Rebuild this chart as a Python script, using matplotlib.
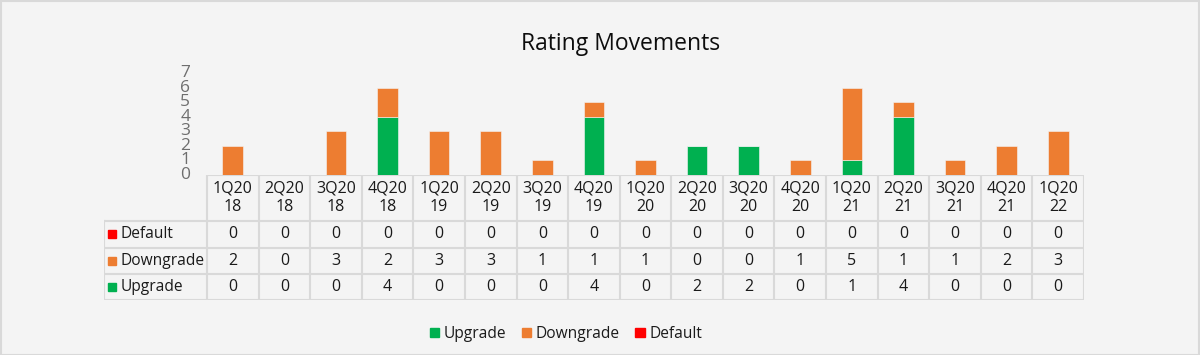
import matplotlib.pyplot as plt
from matplotlib.patches import Patch, Rectangle

quarters = ["1Q20\n18", "2Q20\n18", "3Q20\n18", "4Q20\n18", "1Q20\n19", "2Q20\n19",
            "3Q20\n19", "4Q20\n19", "1Q20\n20", "2Q20\n20", "3Q20\n20", "4Q20\n20",
            "1Q20\n21", "2Q20\n21", "3Q20\n21", "4Q20\n21", "1Q20\n22"]
upgrade = [0, 0, 0, 4, 0, 0, 0, 4, 0, 2, 2, 0, 1, 4, 0, 0, 0]
downgrade = [2, 0, 3, 2, 3, 3, 1, 1, 1, 0, 0, 1, 5, 1, 1, 2, 3]
default = [0] * 17

C_UP = "#00b050"
C_DOWN = "#ed7d31"
C_DEF = "#ff0000"
GRID = "#d9d9d9"
BG = "#f4f4f4"
TXT = "#1a1a1a"

plt.rcParams["font.family"] = ["Open Sans", "DejaVu Sans"]

W, H = 1200, 355
fig = plt.figure(figsize=(12, 3.55), dpi=100, facecolor=BG)
fig.patches.append(Rectangle((0.5 / W, 0.5 / H), 1 - 1.5 / W, 1 - 1.5 / H, transform=fig.transFigure,
                             fill=False, edgecolor=GRID, linewidth=1.5))


def px_axes(x0, y0, x1, y1):
    # pixel box (top-left origin) -> axes
    return fig.add_axes([x0 / W, 1 - y1 / H, (x1 - x0) / W, (y1 - y0) / H])


left, right = 207, 1084
n = len(quarters)
colw = (right - left) / n

# bars
ax = px_axes(left, 73, right, 175)
ax.set_facecolor("none")
xs = [i + 0.5 for i in range(n)]
ax.bar(xs, upgrade, width=0.4, color=C_UP, edgecolor="#f4f4f4", linewidth=0.4)
ax.bar(xs, downgrade, width=0.4, bottom=upgrade, color=C_DOWN, edgecolor="#f4f4f4", linewidth=0.4)
tops = [u + d for u, d in zip(upgrade, downgrade)]
ax.bar(xs, default, width=0.4, bottom=tops, color=C_DEF)
ax.set_xlim(0, n)
ax.set_ylim(0, 7)
ax.set_yticks(range(8))
ax.set_xticks([])
ax.tick_params(axis="y", length=0, pad=12, labelsize=12.5, labelcolor="#6e6e6e")
for s in ax.spines.values():
    s.set_visible(False)
for lab in ax.get_yticklabels():
    lab.set_va("center")

fig.text(621 / W, 1 - 44 / H, "Rating Movements", ha="center", va="center", fontsize=16.5, color="#0d0d0d")

# data table
tb = px_axes(104, 175, right, 300)
tb.set_xlim(104, right)
tb.set_ylim(300, 175)
tb.axis("off")
tb.set_facecolor("none")
rows = [("Default", default, C_DEF), ("Downgrade", downgrade, C_DOWN), ("Upgrade", upgrade, C_UP)]
row_y = [221, 247.5, 274, 300]

lw = 1.5
tb.plot([left, right], [175, 175], color=GRID, lw=lw, solid_capstyle="butt")
for y in row_y:
    tb.plot([104, right], [y, y], color=GRID, lw=lw, solid_capstyle="butt")
tb.plot([104, 104], [221, 300], color=GRID, lw=lw)
for i in range(n + 1):
    x = left + i * colw
    tb.plot([x, x], [175, 300], color=GRID, lw=lw)

for i, q in enumerate(quarters):
    tb.text(left + (i + 0.5) * colw, 198, q, ha="center", va="center", fontsize=11.5,
            color=TXT, linespacing=1.2)

for r, (name, vals, c) in enumerate(rows):
    yc = (row_y[r] + row_y[r + 1]) / 2
    tb.add_patch(Rectangle((108, yc - 4), 8, 8, color=c))
    tb.text(121, yc, name, ha="left", va="center", fontsize=11.2, color=TXT)
    for i, v in enumerate(vals):
        tb.text(left + (i + 0.5) * colw, yc, str(v), ha="center", va="center", fontsize=11.5, color=TXT)

handles = [Patch(color=C_UP, label="Upgrade"), Patch(color=C_DOWN, label="Downgrade"),
           Patch(color=C_DEF, label="Default")]
fig.legend(handles=handles, loc="center", bbox_to_anchor=(566 / W, 1 - 334 / H), ncol=3, frameon=False,
           fontsize=11.2, handlelength=0.6, handleheight=0.6, handletextpad=0.3, columnspacing=1.0,
           labelcolor=TXT)

fig.savefig("out.png", dpi=100, facecolor=BG)
